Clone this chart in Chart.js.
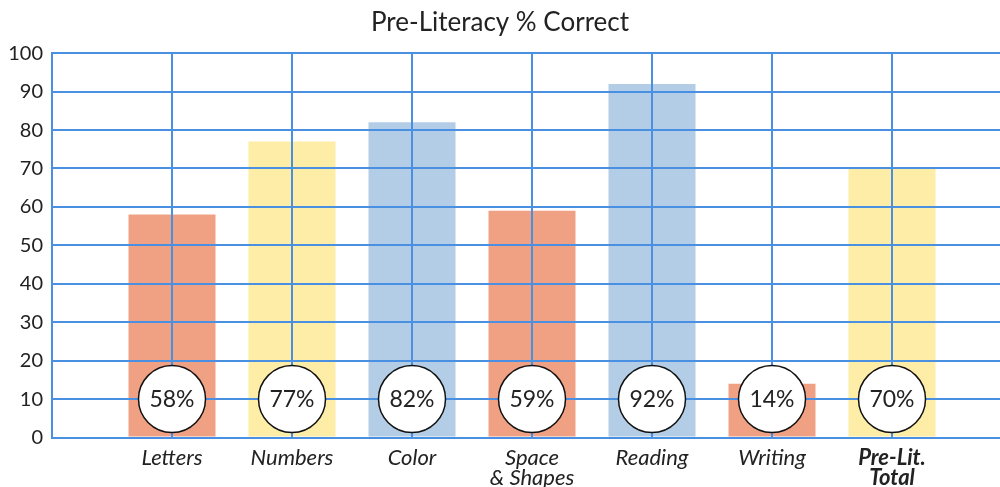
<!DOCTYPE html>
<html>

<head>
  <title>Pre-Literacy % Correct</title>
  <script src="https://cdn.jsdelivr.net/npm/chart.js"></script>
  <style type="text/css">
    body {
      margin: 0;
      background: #fff;
    }
  </style>
</head>

<body>
  <canvas id="myChart" width="1000" height="487"></canvas>

  <script>
    const categories = ['Letters', 'Numbers', 'Color', ['Space', '& Shapes'], 'Reading', 'Writing', ['Pre-Lit.', 'Total']];
    const percentCorrect = [58, 77, 82, 59, 92, 14, 70];
    const circleLabels = ['58%', '77%', '82%', '59%', '92%', '14%', '70%'];
    const yTicks = [0, 10, 20, 30, 40, 50, 60, 70, 80, 90, 100];

    const salmon = '#F0A183';
    const yellow = '#FDEDA7';
    const blue = '#B4CDE6';
    const barColors = [salmon, yellow, blue, salmon, blue, salmon, yellow];
    const gridBlue = '#4A90E2';
    const fontName = 'Lato';

    // white circles with the percentage, drawn on top of everything
    const circlePlugin = {
      id: 'circles',
      afterDraw(chart) {
        const ctx = chart.ctx;
        const x = chart.scales.x;
        const y = chart.scales.y;
        ctx.save();
        for (let i = 0; i < circleLabels.length; i++) {
          const cx = x.getPixelForValue(i + 1);
          const cy = y.getPixelForValue(10);
          ctx.beginPath();
          ctx.arc(cx, cy, 33.5, 0, Math.PI * 2);
          ctx.fillStyle = '#fff';
          ctx.fill();
          ctx.lineWidth = 1.5;
          ctx.strokeStyle = '#111';
          ctx.stroke();
          ctx.fillStyle = '#222';
          ctx.font = '23px ' + fontName;
          ctx.textAlign = 'center';
          ctx.textBaseline = 'middle';
          ctx.fillText(circleLabels[i], cx, cy + 1);
        }
        ctx.restore();
      }
    };

    var ctx = document.getElementById('myChart').getContext('2d');
    var myChart = new Chart(ctx, {
      type: 'bar',
      data: {
        datasets: [{
          data: percentCorrect.map((v, i) => ({ x: i + 1, y: v })),
          backgroundColor: barColors,
          borderWidth: 0,
          categoryPercentage: 1,
          barPercentage: 0.725
        }]
      },
      options: {
        responsive: false,
        animation: false,
        devicePixelRatio: 1,
        layout: { padding: { left: 0, right: 0, top: 0, bottom: 0 } },
        plugins: {
          legend: { display: false },
          tooltip: { enabled: false },
          title: {
            display: true,
            text: 'Pre-Literacy % Correct',
            color: '#222',
            font: { family: fontName, size: 26, weight: 'normal' },
            padding: { top: 7, bottom: 15 }
          }
        },
        scales: {
          x: {
            type: 'linear',
            min: 0,
            max: 7.9,
            offset: false,
            // grid drawn over the bars, like the original
            grid: { color: gridBlue, lineWidth: 2, drawTicks: false, offset: false, z: 1 },
            border: { color: gridBlue, width: 2, z: 1 },
            ticks: {
              stepSize: 1,
              includeBounds: false,
              autoSkip: false,
              maxRotation: 0,
              padding: 11,
              color: '#222',
              font: (c) => ({
                family: fontName,
                size: 22,
                style: 'italic',
                weight: c.index === 7 ? 'bold' : 'normal',
                lineHeight: 0.88
              }),
              callback: (value) => (value >= 1 && value <= 7 ? categories[value - 1] : '')
            },
            afterFit: (s) => { s.height = 49.5; }
          },
          y: {
            min: 0,
            max: 100,
            grid: { color: gridBlue, lineWidth: 2, drawTicks: false, z: 1 },
            border: { color: gridBlue, width: 2, z: 1 },
            afterBuildTicks: (s) => { s.ticks = yTicks.map(v => ({ value: v })); },
            ticks: {
              padding: 9,
              color: '#222',
              font: { family: fontName, size: 20 }
            },
            afterFit: (s) => { s.width = 52; }
          }
        }
      },
      plugins: [circlePlugin]
    });
  </script>
</body>

</html>
